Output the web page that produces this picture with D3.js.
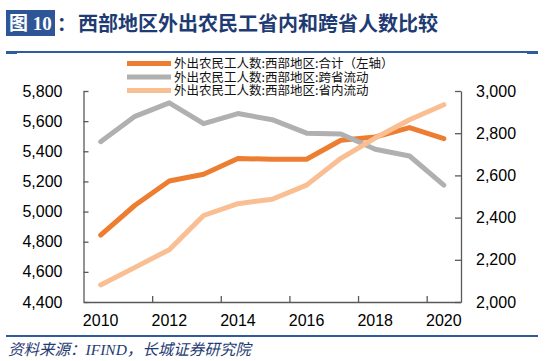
<!DOCTYPE html>
<html>
<head>
<meta charset="utf-8">
<script src="https://cdn.jsdelivr.net/npm/d3@7"></script>
<style>
  body { margin: 0; background: #fff; }
  svg { display: block; }
</style>
</head>
<body>
<script>
// data
var years = ["2010", "2011", "2012", "2013", "2014", "2015", "2016", "2017", "2018", "2019", "2020"];
var totalWest = [4844, 5042, 5203, 5248, 5352, 5347, 5347, 5473, 5495, 5557, 5484];
var crossProvince = [2760, 2880, 2944, 2845, 2893, 2864, 2800, 2796, 2724, 2692, 2554];
var withinProvince = [2081, 2164, 2248, 2410, 2466, 2487, 2554, 2681, 2777, 2864, 2935];
var leftTicks = [4400, 4600, 4800, 5000, 5200, 5400, 5600, 5800];
var rightTicks = [2000, 2200, 2400, 2600, 2800, 3000];
var xLabelYears = ["2010", "2012", "2014", "2016", "2018", "2020"];
var legendNames = [
    "外出农民工人数:西部地区:合计（左轴）",
    "外出农民工人数:西部地区:跨省流动",
    "外出农民工人数:西部地区:省内流动"
];

var W = 550, H = 361;
var plot = { left: 83.5, right: 461, top: 91, bottom: 302 };
var axisColor = "#595959";
var numFont = "'Liberation Sans', Arial, sans-serif";
var cjkFont = "'Noto Sans CJK SC', sans-serif";

var svg = d3.select("body").append("svg").attr("width", W).attr("height", H);

// title
svg.append("rect").attr("x", 6).attr("y", 10).attr("width", 49).attr("height", 26).attr("fill", "#2E5597");
svg.append("text").attr("x", 30.5).attr("y", 30).attr("text-anchor", "middle")
    .attr("fill", "#fff").style("font-family", "'Liberation Serif', " + cjkFont)
    .style("font-weight", "bold").style("font-size", "19px").text("图 10");
svg.append("text").attr("x", 57).attr("y", 31).attr("fill", "#1F3B73")
    .style("font-family", cjkFont).style("font-weight", "bold").style("font-size", "19px").text("：");
svg.append("text").attr("x", 78).attr("y", 31).attr("fill", "#1F3B73")
    .style("font-family", cjkFont).style("font-weight", "bold").style("font-size", "20px")
    .text("西部地区外出农民工省内和跨省人数比较");

// frame rules
function rule(y) {
    svg.append("line").attr("x1", 6).attr("x2", 538).attr("y1", y).attr("y2", y)
        .attr("stroke", "#2E5C9E").attr("stroke-width", 2);
}
rule(52);
rule(336);
svg.append("rect").attr("x", 6).attr("y", 51).attr("width", 11).attr("height", 3).attr("fill", "#2E5C9E");
svg.append("rect").attr("x", 527).attr("y", 51).attr("width", 11).attr("height", 3).attr("fill", "#2E5C9E");

// source
svg.append("text").attr("x", 8).attr("y", 355).attr("fill", "#1F3B73")
    .style("font-family", "'Liberation Serif', " + cjkFont).style("font-style", "italic")
    .style("font-size", "15.5px").text("资料来源：IFIND，长城证券研究院");

// scales
var x = d3.scaleBand().domain(years).range([plot.left, plot.right]).padding(0);
var xEdge = d3.scaleLinear().domain([0, years.length]).range([plot.left, plot.right]);
var yL = d3.scaleLinear().domain([4400, 5800]).range([plot.bottom, plot.top]);
var yR = d3.scaleLinear().domain([2000, 3000]).range([plot.bottom, plot.top]);
var cx = function(d) { return x(d) + x.bandwidth() / 2; };

// axes
function styleAxis(g) {
    g.select(".domain").attr("stroke", axisColor).attr("stroke-width", 1.3);
    g.selectAll(".tick line").attr("stroke", axisColor).attr("stroke-width", 1.3);
    g.selectAll("text").attr("fill", "#000").style("font-family", numFont).style("font-size", "16px");
}

var gL = svg.append("g").attr("transform", "translate(" + plot.left + ",0)")
    .call(d3.axisLeft(yL).tickValues(leftTicks).tickSizeInner(-5).tickSizeOuter(0)
        .tickPadding(21).tickFormat(d3.format(",")));
styleAxis(gL);

var gR = svg.append("g").attr("transform", "translate(" + plot.right + ",0)")
    .call(d3.axisRight(yR).tickValues(rightTicks).tickSizeInner(-6).tickSizeOuter(0)
        .tickPadding(15).tickFormat(d3.format(",")));
styleAxis(gR);

var gB = svg.append("g").attr("transform", "translate(0," + plot.bottom + ")")
    .call(d3.axisBottom(xEdge).tickValues([2, 4, 6, 8, 10]).tickSizeInner(-6).tickSizeOuter(0).tickFormat(""));
styleAxis(gB);

var gX = svg.append("g").attr("transform", "translate(0," + plot.bottom + ")")
    .call(d3.axisBottom(x).tickValues(xLabelYears).tickSize(0).tickPadding(13));
gX.select(".domain").remove();
styleAxis(gX);

// series
var series = [
    { name: legendNames[0], values: totalWest, y: yL, color: "#ED7D31" },
    { name: legendNames[1], values: crossProvince, y: yR, color: "#B0B0B0" },
    { name: legendNames[2], values: withinProvince, y: yR, color: "#F9BF93" }
];

series.forEach(function(s) {
    var line = d3.line()
        .x(function(d, i) { return cx(years[i]); })
        .y(function(d) { return s.y(d); });
    svg.append("path").datum(s.values)
        .attr("d", line)
        .attr("fill", "none")
        .attr("stroke", s.color)
        .attr("stroke-width", 5)
        .attr("stroke-linejoin", "round")
        .attr("stroke-linecap", "round");
});

// legend (rows sit tight, as in the reference)
var lg = svg.append("g");
series.forEach(function(s, i) {
    var ly = 63.5 + i * 13.5;
    lg.append("line").attr("x1", 127).attr("x2", 171).attr("y1", ly).attr("y2", ly)
        .attr("stroke", s.color).attr("stroke-width", 5);
    lg.append("text").attr("x", 174).attr("y", ly + 4.5).attr("fill", "#111")
        .style("font-family", cjkFont).style("font-size", "12.5px").text(s.name);
});
</script>
</body>
</html>
